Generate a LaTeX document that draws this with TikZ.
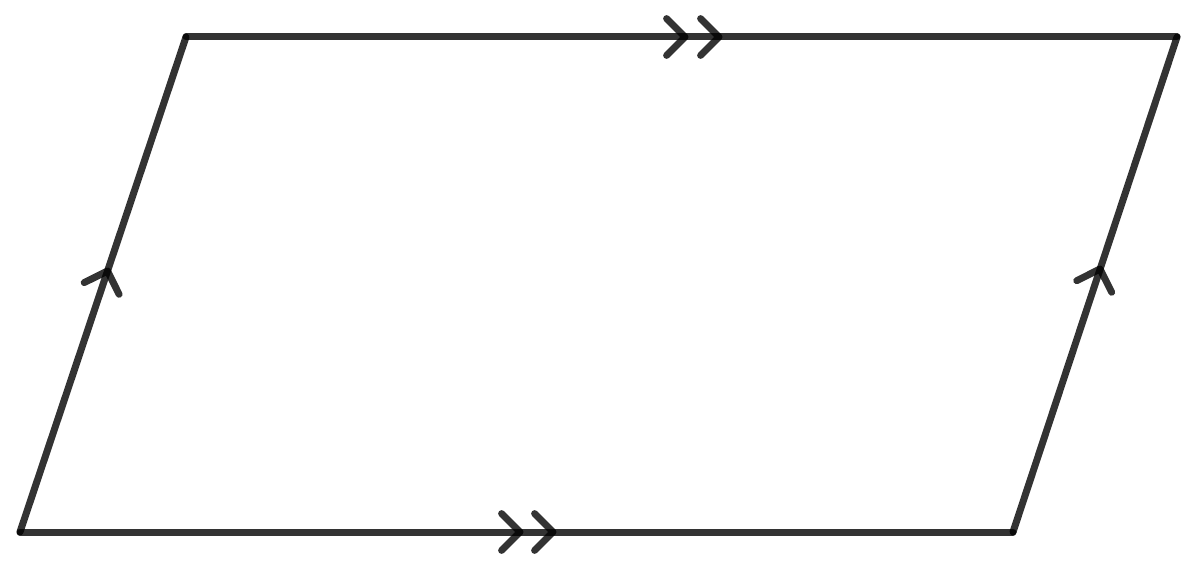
\documentclass[tikz,border=0pt]{standalone}
\usetikzlibrary{calc}
\begin{document}
\begin{tikzpicture}[x=1pt,y=-1pt,
  edge/.style={line width=7pt, line cap=round, line join=round, draw=black, draw opacity=0.8}]
\useasboundingbox (0,0) rectangle (1200,572);
\coordinate (A) at (20,532);
\coordinate (B) at (1013,532);
\coordinate (C) at (1177,37);
\coordinate (D) at (186,37);
\draw[edge] (A) -- (B);
\draw[edge] (B) -- (C);
\draw[edge] (C) -- (D);
\draw[edge] (D) -- (A);
% top double chevron
\coordinate (t1) at (685,37);
\coordinate (t2) at (719,37);
\draw[edge] ($(t1)!26pt!45:(D)$) -- (t1) -- ($(t1)!26pt!-45:(D)$);
\draw[edge] ($(t2)!26pt!45:(D)$) -- (t2) -- ($(t2)!26pt!-45:(D)$);
% bottom double chevron
\coordinate (b1) at (520,532);
\coordinate (b2) at (553,532);
\draw[edge] ($(b1)!26pt!45:(A)$) -- (b1) -- ($(b1)!26pt!-45:(A)$);
\draw[edge] ($(b2)!26pt!45:(A)$) -- (b2) -- ($(b2)!26pt!-45:(A)$);
% left chevron
\coordinate (l1) at (107.5,271);
\draw[edge] ($(l1)!26pt!45:(A)$) -- (l1) -- ($(l1)!26pt!-45:(A)$);
% right chevron
\coordinate (r1) at (1100,269);
\draw[edge] ($(r1)!26pt!45:(B)$) -- (r1) -- ($(r1)!26pt!-45:(B)$);
\end{tikzpicture}
\end{document}
